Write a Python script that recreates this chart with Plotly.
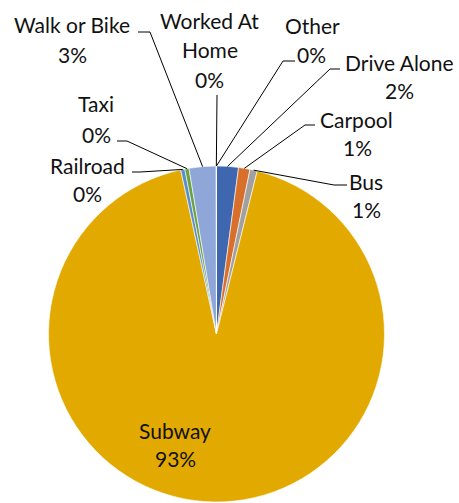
import math
import plotly.graph_objects as go

# ---- data ----
categories = ["Drive Alone", "Carpool", "Bus", "Subway", "Railroad", "Taxi",
              "Walk or Bike", "Worked At Home", "Other"]
shares = [2.1, 1.1, 0.7, 92.7, 0.4, 0.4, 2.6, 0.01, 0.01]
colors = ["#3F67B0", "#D8702C", "#A0A0A0", "#E2AA00", "#5A8FCB", "#6BA141",
          "#8EA6D8", "#C6C6C6", "#F2C200"]

# ---- layout constants (pixels) ----
W, H = 459, 503
CX, CY, R = 216.5, 334.0, 168.0
FONT = "Lato"
FS = 21

# label layout: name lines with centers, percent center, leader elbow & end
label_layout = {
    "Drive Alone": dict(lines=[("Drive Alone", 399, 63)], pct=(399, 91), elbow=(330, 69), end=(340, 69)),
    "Carpool": dict(lines=[("Carpool", 356, 119)], pct=(357, 147), elbow=(305, 125), end=(315, 125)),
    "Bus": dict(lines=[("Bus", 366, 181)], pct=(366, 209), elbow=(334, 185), end=(347, 185)),
    "Subway": dict(lines=[("Subway", 175, 430)], pct=(175, 458), elbow=None, end=None),
    "Railroad": dict(lines=[("Railroad", 87, 165)], pct=(87, 193), elbow=(140, 172), end=(132, 172)),
    "Taxi": dict(lines=[("Taxi", 96, 104)], pct=(96, 134), elbow=(127, 141), end=(117, 141)),
    "Walk or Bike": dict(lines=[("Walk or Bike", 72, 25)], pct=(72, 55), elbow=(150, 32), end=(138, 32)),
    "Worked At Home": dict(lines=[("Worked At", 209, 21), ("Home", 210, 49)], pct=(209, 79), elbow=(217, 95), end=(217, 95)),
    "Other": dict(lines=[("Other", 312, 26)], pct=(311, 55), elbow=(283, 61), end=(295, 61)),
}


def px(x):
    return x / W


def py(y):
    return 1 - y / H


fig = go.Figure(go.Pie(
    labels=categories, values=shares, sort=False, direction="clockwise",
    rotation=0, marker=dict(colors=colors, line=dict(color="white", width=0.6)),
    textinfo="none", hoverinfo="label+percent", showlegend=False,
    domain=dict(x=[px(CX - R), px(CX + R)], y=[py(CY + R), py(CY - R)]),
))

total = sum(shares)
annotations = []
shapes = []
cum = 0.0
for cat, v in zip(categories, shares):
    mid = (cum + v / 2) / total
    cum += v
    th = 2 * math.pi * mid
    ax = CX + R * math.sin(th)
    ay = CY - R * math.cos(th)
    lay = label_layout[cat]
    for txt, tx, ty in lay["lines"]:
        annotations.append(dict(text=txt, x=px(tx), y=py(ty), xref="paper", yref="paper",
                                showarrow=False, xanchor="center", yanchor="middle",
                                font=dict(family=FONT, size=FS, color="#111111")))
    pct = f"{round(v / total * 100)}%"
    annotations.append(dict(text=pct, x=px(lay["pct"][0]), y=py(lay["pct"][1]), xref="paper", yref="paper",
                            showarrow=False, xanchor="center", yanchor="middle",
                            font=dict(family=FONT, size=FS, color="#111111")))
    if lay["elbow"] is not None:
        ex, ey = lay["elbow"]
        hx, hy = lay["end"]
        path = f"M {px(ax)} {py(ay)} L {px(ex)} {py(ey)} L {px(hx)} {py(hy)}"
        shapes.append(dict(type="path", path=path, xref="paper", yref="paper",
                           line=dict(color="black", width=1)))

fig.update_layout(
    width=W, height=H, margin=dict(l=0, r=0, t=0, b=0),
    paper_bgcolor="white", plot_bgcolor="white",
    annotations=annotations, shapes=shapes,
)

fig.write_html("out.html", config={"displayModeBar": False},
               post_script="document.body.style.margin='0px';document.body.style.overflow='hidden';")
